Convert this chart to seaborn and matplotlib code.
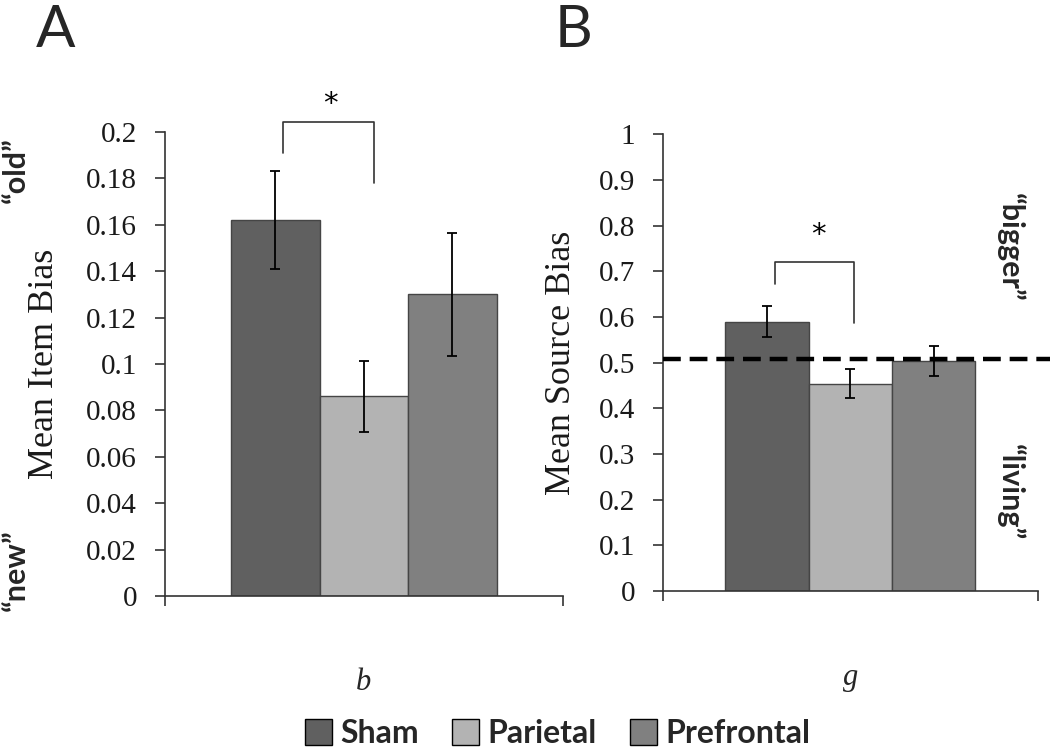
import matplotlib
matplotlib.use("Agg")
import matplotlib.pyplot as plt
import numpy as np
import pandas as pd
import seaborn as sns

# data
groups = ["Sham", "Parietal", "Prefrontal"]
colors = ["#606060", "#b3b3b3", "#808080"]

item_bias = [0.162, 0.086, 0.130]
item_err = [0.021, 0.0155, 0.0265]
item_ticks = [0, 0.02, 0.04, 0.06, 0.08, 0.10, 0.12, 0.14, 0.16, 0.18, 0.20]
item_labels = ["0", "0.02", "0.04", "0.06", "0.08", "0.1", "0.12", "0.14", "0.16", "0.18", "0.2"]

source_bias = [0.590, 0.454, 0.503]
source_err = [0.033, 0.031, 0.033]
source_ticks = [0, 0.1, 0.2, 0.3, 0.4, 0.5, 0.6, 0.7, 0.8, 0.9, 1.0]
source_labels = ["0", "0.1", "0.2", "0.3", "0.4", "0.5", "0.6", "0.7", "0.8", "0.9", "1"]
chance_line = 0.508

sns.set_theme(style="white")
plt.rcParams["font.family"] = ["DejaVu Sans"]

SERIF = "Liberation Serif"
BOLD = "Lato"
palette = dict(zip(groups, colors))

fig = plt.figure(figsize=(10.5, 7.5), dpi=100)
ax_a = fig.add_axes([0.157, 0.2053, 0.379, 0.6187])
ax_b = fig.add_axes([0.6314, 0.212, 0.357, 0.609])


def draw_panel(ax, cat, values, errs, ticks, labels, ylabel, label_x):
    df = pd.DataFrame({"cat": [cat] * len(groups), "group": groups, "value": values})
    sns.barplot(data=df, x="cat", y="value", hue="group", hue_order=groups,
                palette=palette, width=0.667, errorbar=None, legend=False,
                edgecolor="#454545", linewidth=1.0, saturation=1, ax=ax)
    centers = [p.get_x() + p.get_width() / 2 for p in ax.patches[:len(groups)]]
    ax.errorbar(centers, values, yerr=errs, fmt="none", ecolor="black",
                elinewidth=1.3, capsize=3.5, capthick=1.3, zorder=5)

    ax.set_xlim(-0.5, 0.5)
    ax.set_ylim(ticks[0], ticks[-1])
    ax.set_yticks(ticks, labels)
    ax.set_xticks([-0.5, 0.5], ["", ""])
    ax.set_xticks([0], [cat], minor=True)
    ax.tick_params(axis="x", which="minor", length=0, pad=52, labelsize=22)
    for t in ax.get_xticklabels(minor=True):
        t.set_family(SERIF)
        t.set_style("italic")
    ax.tick_params(axis="both", which="major", direction="out", length=7,
                   width=1.2, color="#333333", left=True, bottom=True)
    ax.tick_params(axis="y", pad=13, labelsize=21, labelcolor="#1a1a1a")
    for t in ax.get_yticklabels():
        t.set_family(SERIF)
    ax.set_ylabel(ylabel, family=SERIF, fontsize=26, color="#1a1a1a")
    ax.yaxis.set_label_coords(label_x, 0.5)
    ax.set_xlabel("")
    sns.despine(ax=ax)
    for s in ["left", "bottom"]:
        ax.spines[s].set_color("#333333")
        ax.spines[s].set_linewidth(1.2)
    ax.set_facecolor("white")
    return centers


def bracket(ax, x1, x2, top, low1, low2, star_x, star_y):
    ax.plot([x1, x1, x2, x2], [low1, top, top, low2], color="#333333",
            lw=1.2, clip_on=False, zorder=6)
    ax.text(star_x, star_y, "*", ha="center", va="center", fontsize=21,
            color="black", clip_on=False)


c_a = draw_panel(ax_a, "b", item_bias, item_err, item_ticks, item_labels,
                 "Mean Item Bias", -0.262)
bracket(ax_a, c_a[0] + 0.02, c_a[1] + 0.025, 0.2043, 0.191, 0.178, -0.085, 0.212)

c_b = draw_panel(ax_b, "g", source_bias, source_err, source_ticks, source_labels,
                 "Mean Source Bias", -0.228)
ax_b.axhline(chance_line, xmin=0, xmax=1.04, color="black", lw=3.2,
             ls=(0, (4, 2)), clip_on=False, zorder=4)
bracket(ax_b, c_b[0] + 0.02, c_b[1] + 0.01, 0.72, 0.672, 0.586, -0.084, 0.78)

# panel letters
fig.text(0.053, 0.937, "A", fontsize=42, family=BOLD, ha="center", va="baseline")
fig.text(0.546, 0.937, "B", fontsize=42, family=BOLD, ha="center", va="baseline")

# response labels
side = dict(fontsize=22, fontweight="bold", family=BOLD, ha="center", va="center")
fig.text(0.015, 0.773, "\u201cold\u201d", rotation=90, **side)
fig.text(0.015, 0.24, "\u201cnew\u201d", rotation=90, **side)
fig.text(0.962, 0.67, "\u201cbigger\u201d", rotation=270, **side)
fig.text(0.962, 0.344, "\u201cliving\u201d", rotation=270, **side)

handles = [plt.Rectangle((0, 0), 1, 1, facecolor=c, edgecolor="black", lw=1.0)
           for c in colors]
fig.legend(handles, groups, loc="center", bbox_to_anchor=(0.531, 0.022), ncol=3,
           frameon=False, prop={"family": BOLD, "weight": "bold", "size": 23},
           handlelength=0.85, handleheight=0.85, handletextpad=0.25,
           columnspacing=1.05, borderaxespad=0)

fig.savefig("out.png", dpi=100)
